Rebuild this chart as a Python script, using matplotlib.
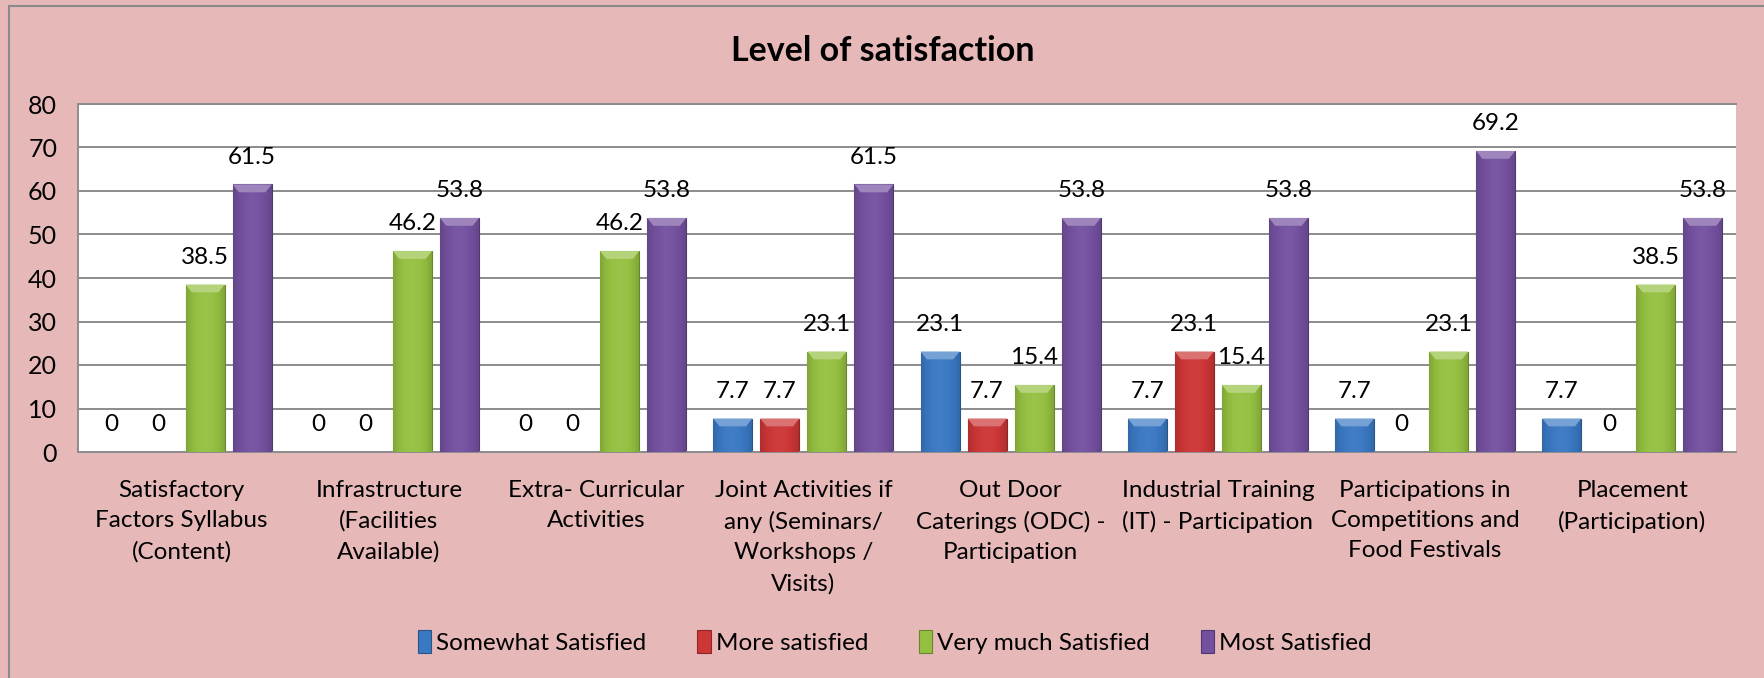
"""
Level of satisfaction - clustered bar chart (Excel style) recreated in matplotlib.
"""

import numpy as np
import matplotlib.pyplot as plt
from matplotlib.colors import to_rgb
from matplotlib.patches import Rectangle, Polygon

# --- data -----------------------------------------------------------------
categories = [
    "Satisfactory\nFactors Syllabus\n(Content)",
    "Infrastructure\n(Facilities\nAvailable)",
    "Extra- Curricular\nActivities",
    "Joint Activities if\nany (Seminars/\nWorkshops /\nVisits)",
    "Out Door\nCaterings (ODC) -\nParticipation",
    "Industrial Training\n(IT) - Participation",
    "Participations in\nCompetitions and\nFood Festivals",
    "Placement\n(Participation)",
]
series_names = ["Somewhat Satisfied", "More satisfied",
                "Very much Satisfied", "Most Satisfied"]
somewhat = [0, 0, 0, 7.7, 23.1, 7.7, 7.7, 7.7]
more = [0, 0, 0, 7.7, 7.7, 23.1, 0, 0]
very_much = [38.5, 46.2, 46.2, 23.1, 15.4, 15.4, 23.1, 38.5]
most = [61.5, 53.8, 53.8, 61.5, 53.8, 53.8, 69.2, 53.8]
yticks = [0, 10, 20, 30, 40, 50, 60, 70, 80]

# --- style ----------------------------------------------------------------
colors = ["#3a78c2", "#cc3636", "#94c041", "#74519f"]
bg_pink = "#e6b8b8"
grid_grey = "#8c8c8c"
plt.rcParams["font.family"] = ["Lato", "DejaVu Sans"]


def shade(color, factor):
    """Lighten (factor > 0) or darken (factor < 0) a colour."""
    rgb = np.array(to_rgb(color))
    if factor >= 0:
        return tuple(rgb + (1 - rgb) * factor)
    return tuple(rgb * (1 + factor))


def bevel_bar(ax, patch, color):
    """Give a bar a horizontal gradient and a light bevelled top."""
    x0, y0 = patch.get_x(), patch.get_y()
    w, h = patch.get_width(), patch.get_height()
    if h <= 0:
        return
    # horizontal gradient: dark edges, lighter middle
    t = np.linspace(0, 1, 64)
    prof = 0.18 * np.sin(np.pi * t) ** 0.8 - 0.14
    grad = np.array([shade(color, f) for f in prof])
    im = ax.imshow(grad[np.newaxis, :, :], extent=(x0, x0 + w, y0, y0 + h),
                   aspect="auto", zorder=3, interpolation="bicubic")
    im.set_clip_path(patch)
    # bevelled top cap
    cap = min(1.8, h * 0.5)
    inset = w * 0.16
    top = Polygon([(x0, y0 + h), (x0 + w, y0 + h),
                   (x0 + w - inset, y0 + h - cap), (x0 + inset, y0 + h - cap)],
                  closed=True, facecolor=shade(color, 0.3), edgecolor="none",
                  zorder=4)
    ax.add_patch(top)


fig = plt.figure(figsize=(17.65, 6.78), dpi=100, facecolor=bg_pink)
ax = fig.add_axes([78 / 1765, 226 / 678, 1658 / 1765, 348 / 678])
ax.set_facecolor("white")

# outer chart border
fig.patches.append(Rectangle((9 / 1765, -0.02), 1.1, 1 - 6 / 678 + 0.02,
                             transform=fig.transFigure, fill=False,
                             edgecolor="#8a8a8a", linewidth=1.5))

x = np.arange(len(categories))
pitch = 0.227
width = 0.188
all_series = [somewhat, more, very_much, most]

handles = []
for i, (vals, name, col) in enumerate(zip(all_series, series_names, colors)):
    offs = (i - 1.5) * pitch
    bars = ax.bar(x + offs, vals, width=width, color=col,
                  edgecolor=shade(col, -0.3), linewidth=0.8, zorder=2,
                  label=name)
    handles.append(bars)
    for b in bars:
        bevel_bar(ax, b, col)
    for xi, v in zip(x + offs, vals):
        ax.annotate(f"{v:g}", xy=(xi, v), xytext=(0, 19.5),
                    textcoords="offset points", ha="center", va="center",
                    fontsize=17.5, color="black", zorder=5)

ax.set_xlim(-0.5, len(categories) - 0.5)
ax.set_ylim(0, 80)
ax.set_yticks(yticks)
ax.set_yticklabels([str(t) for t in yticks], fontsize=18)
ax.set_xticks(x)
ax.set_xticklabels(categories, fontsize=17.5, linespacing=1.55, va="top")
ax.tick_params(axis="both", length=0)
ax.tick_params(axis="y", pad=15)
ax.tick_params(axis="x", pad=20)
ax.yaxis.grid(True, color=grid_grey, linewidth=1.4, zorder=0)
ax.set_axisbelow(True)
ax.spines["right"].set_visible(False)
for side in ["left", "top", "bottom"]:
    ax.spines[side].set_color(grid_grey)
    ax.spines[side].set_linewidth(1.4)

fig.text(0.5, 1 - 51 / 678, "Level of satisfaction", ha="center", va="center",
         fontsize=24.5, fontweight="bold")

fig.legend(handles=handles, labels=series_names, loc="center",
           bbox_to_anchor=(0.507, 1 - 642 / 678), ncol=4, frameon=False,
           fontsize=17.5, handlelength=0.55, handleheight=1.1,
           handletextpad=0.2, columnspacing=2.1)

fig.savefig("out.png", dpi=100, facecolor=bg_pink)
